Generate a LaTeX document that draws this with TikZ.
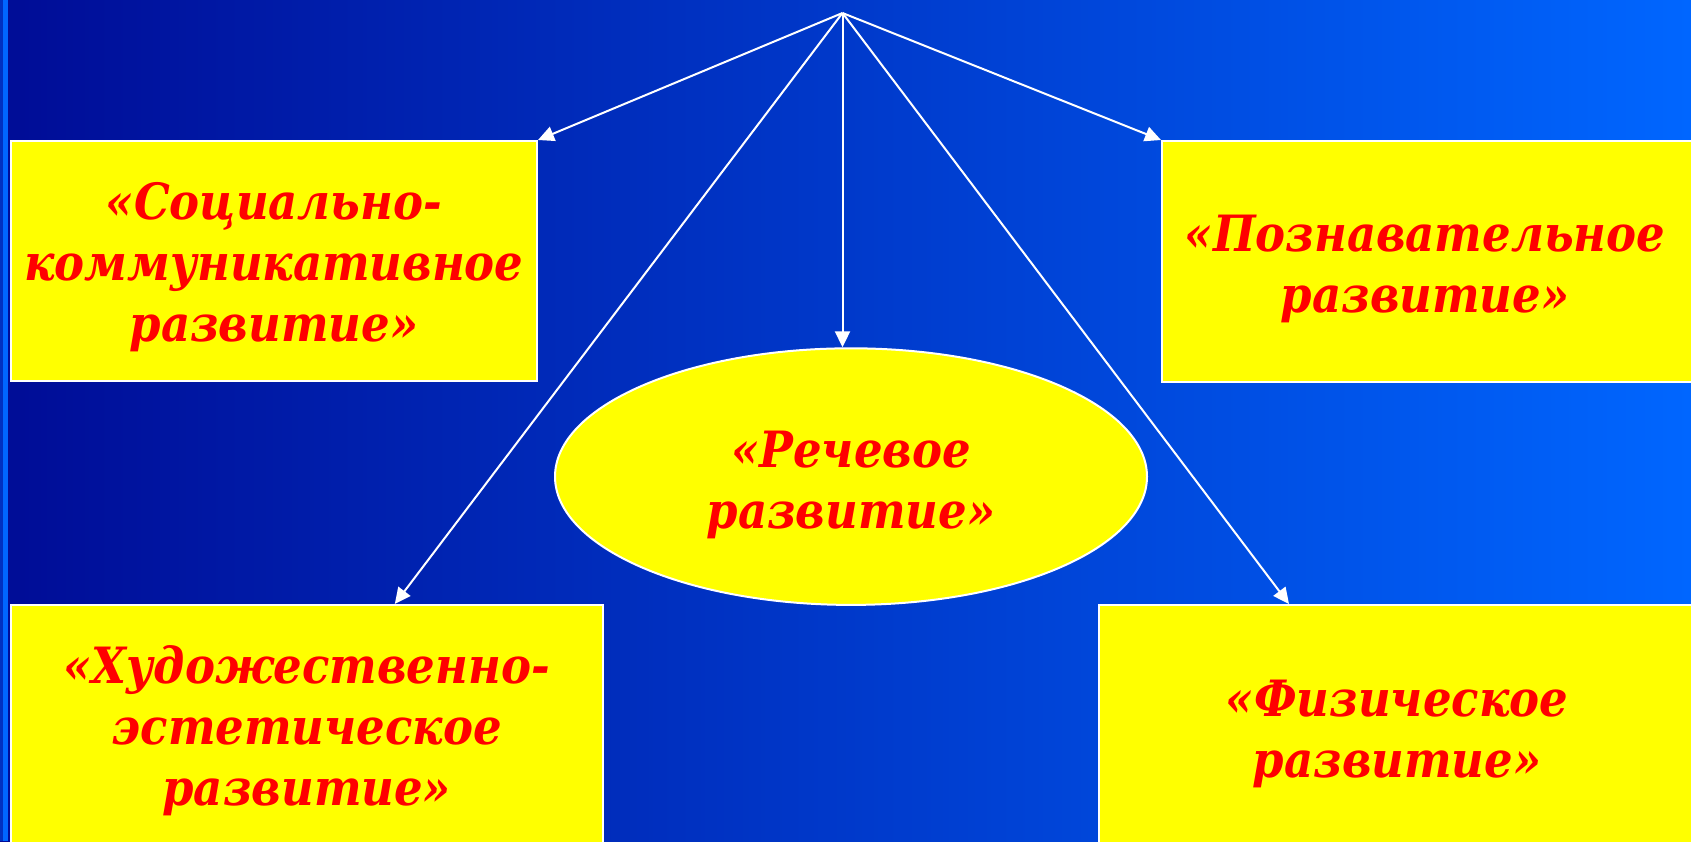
\documentclass[tikz,border=0pt]{standalone}
\usepackage{fontspec}
\setmainfont{DejaVu Serif Condensed}
\usetikzlibrary{shapes.geometric,arrows.meta,calc}
\definecolor{bgleft}{HTML}{000C96}
\definecolor{bgright}{HTML}{0066FF}
\definecolor{txtred}{HTML}{FF0000}
\definecolor{boxyellow}{HTML}{FFFF00}
\tikzset{
  areabox/.style={draw=white, line width=1pt, fill=boxyellow, inner sep=0pt},
  areaoval/.style={areabox, ellipse},
  areatext/.style={inner sep=0pt, align=center, text=txtred,
    font=\fontsize{25}{30.5}\selectfont\bfseries\itshape},
  link/.style={draw=white, line width=1pt, -{Triangle[length=8pt,width=7.5pt]}}
}
\begin{document}
\begin{tikzpicture}[x=0.5pt,y=-0.5pt]
\useasboundingbox (0,0) rectangle (1691,841);
\clip (0,0) rectangle (1691,841);
\shade[left color=bgleft, right color=bgright] (0,0) rectangle (1691,841);
\fill[color=bgleft!60!bgright] (0,0) rectangle (3,841);
\fill[color=bgright] (3,0) rectangle (8,841);
\coordinate (apex) at (842.5,13);
\node[areabox, minimum width=263pt, minimum height=120pt] (b1) at (274,261) {};
\node[areabox, minimum width=266.5pt, minimum height=120.5pt] (b2) at (1428.5,261.5) {};
\node[areabox, minimum width=296pt, minimum height=124pt] (b3) at (306.8,729) {};
\node[areabox, minimum width=298pt, minimum height=124pt] (b4) at (1397,729) {};
\node[areaoval, minimum width=296pt, minimum height=128.3pt] (el) at (851,476.6) {};
\node[areatext] (t1) at (274,267.5) {«Социально-\\коммуникативное\\развитие»};
\node[areatext] (t2) at (1425,269) {«Познавательное\\развитие»};
\node[areatext] (t3) at (306.8,731) {«Художественно-\\эстетическое\\развитие»};
\node[areatext] (t4) at (1397,734.4) {«Физическое\\развитие»};
\node[areatext] (t5) at (851,484.6) {«Речевое\\развитие»};
\draw[link] (apex) -- (b1.north east);
\draw[link] (apex) -- (b2.north west);
\draw[link] (apex) -- (apex |- el.north);
\draw[link] (apex) -- ($(b3.north west)+(385,0)$);
\draw[link] (apex) -- ($(b4.north west)+(191,0)$);
\end{tikzpicture}
\end{document}
